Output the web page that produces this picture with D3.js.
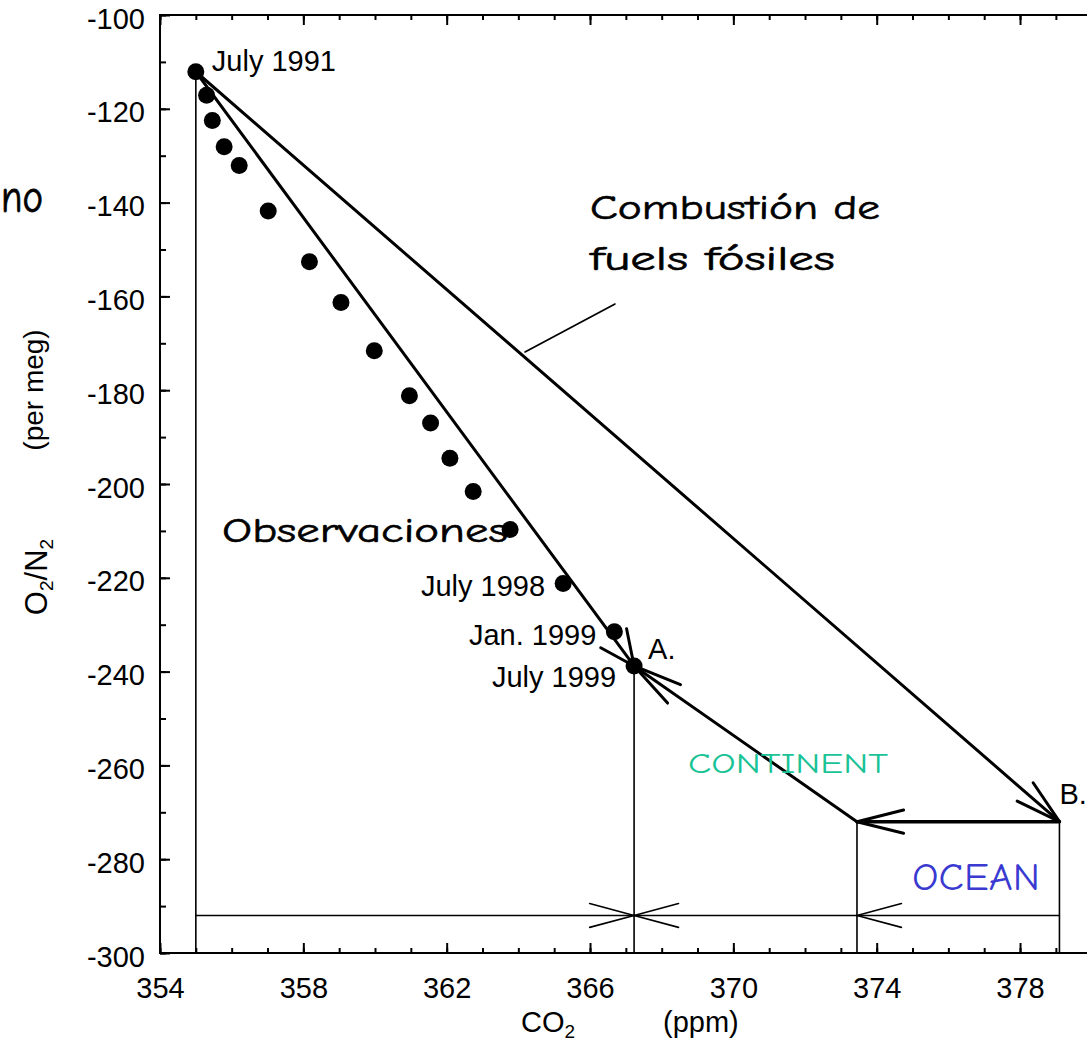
<!DOCTYPE html>
<html>
<head>
<meta charset="utf-8">
<script src="https://cdn.jsdelivr.net/npm/d3@7"></script>
<style>
  html, body { margin: 0; padding: 0; background: #fff; }
  svg { display: block; }
  .arial { font-family: "Liberation Sans", Arial, Helvetica, sans-serif; }
  .hand { font-family: "Comic Sans MS", "Comic Neue", "DejaVu Sans", sans-serif; }
</style>
</head>
<body>
<svg id="chart" width="1087" height="1043"></svg>
<script>
// Atmospheric CO2 (ppm) and O2/N2 (per meg) observations, July 1991 - July 1999
const co2 = [355.0, 355.3, 355.46, 355.79, 356.21, 357.02, 358.17, 359.05, 359.98,
             360.96, 361.55, 362.09, 362.74, 363.77, 365.25, 366.68, 367.23];
const o2n2 = [-112.1, -117.1, -122.5, -128.1, -132.1, -141.8, -152.6, -161.3, -171.6,
              -181.2, -187.0, -194.5, -201.6, -209.7, -221.2, -231.5, -238.8];

// Labelled observations (index into the series)
const dateLabels = ["July 1991", "July 1998", "Jan. 1999", "July 1999"];
const dateIndex = [0, 14, 15, 16];

// Budget vectors: start, A (observed end), B (fossil-only end), C (ocean/land split)
const budgetNames = ["start", "A", "B", "C"];
const budgetCO2 = [355.0, 367.23, 379.1, 373.45];
const budgetO2 = [-112.1, -238.8, -272.0, -272.0];
const baselineO2 = -292;

// Axis ticks
const xMajor = [354, 358, 362, 366, 370, 374, 378];
const xMinor = d3.range(354, 381, 1);
const yMajor = [-300, -280, -260, -240, -220, -200, -180, -160, -140, -120, -100];
const yMinor = d3.range(-300, -99, 10);

const svg = d3.select("#chart");
const x = d3.scaleLinear().domain([354, 380]).range([160, 1091.7]);
const y = d3.scaleLinear().domain([-300, -100]).range([953, 15]);

const P = {};
budgetNames.forEach((n, i) => P[n] = [x(budgetCO2[i]), y(budgetO2[i])]);

const plain = d => String(d);   // hyphen-minus, as in the original plot

// ---- axes: ticks point inward, frame drawn separately
function styleAxis(g) {
  g.select(".domain").remove();
  g.selectAll(".tick line").attr("stroke", "#000").attr("stroke-width", 2);
  g.selectAll(".tick text").attr("class", "arial").attr("font-size", 29).attr("fill", "#000");
}
svg.append("g").attr("transform", `translate(160,0)`)
  .call(d3.axisLeft(y).tickValues(yMinor).tickSize(-6).tickFormat("")).call(styleAxis);
svg.append("g").attr("transform", `translate(160,0)`)
  .call(d3.axisLeft(y).tickValues(yMajor).tickSize(-10).tickPadding(15).tickFormat(plain))
  .call(styleAxis)
  .selectAll(".tick text").attr("dy", "0.45em");

svg.append("g").attr("transform", `translate(0,953)`)
  .call(d3.axisBottom(x).tickValues(xMinor).tickSize(-5).tickFormat("")).call(styleAxis);
svg.append("g").attr("transform", `translate(0,953)`)
  .call(d3.axisBottom(x).tickValues(xMajor).tickSize(-10).tickPadding(24).tickFormat(plain))
  .call(styleAxis);

svg.append("g").attr("transform", `translate(0,15)`)
  .call(d3.axisTop(x).tickValues(xMinor).tickSize(-5).tickFormat("")).call(styleAxis);
svg.append("g").attr("transform", `translate(0,15)`)
  .call(d3.axisTop(x).tickValues(xMajor).tickSize(-10).tickFormat("")).call(styleAxis);

// frame
const [x0, x1] = x.range();
const frame = svg.append("g").attr("stroke", "#000").attr("stroke-width", 2).attr("fill", "none");
frame.append("path").attr("d", `M${x1},${y(-100)}H${x0}V${y(-300)}H${x1}`);
frame.append("line").attr("x1", x1).attr("x2", x1).attr("y1", y(-100)).attr("y2", y(-300));

// ---- axis titles
svg.append("text").attr("class", "arial").attr("font-size", 29)
  .attr("x", 521).attr("y", 1032)
  .call(t => { t.append("tspan").text("CO"); t.append("tspan").attr("font-size", 19).attr("dy", 6).text("2"); });
svg.append("text").attr("class", "arial").attr("font-size", 29)
  .attr("x", 663).attr("y", 1032).text("(ppm)");

svg.append("text").attr("class", "arial").attr("font-size", 28)
  .attr("transform", "translate(43,390) rotate(-90)").attr("text-anchor", "middle").text("(per meg)");
svg.append("text").attr("class", "arial").attr("font-size", 31)
  .attr("transform", "translate(47,577) rotate(-90)").attr("text-anchor", "middle")
  .call(t => {
    t.append("tspan").text("O");
    t.append("tspan").attr("font-size", 19).attr("dy", 6).text("2");
    t.append("tspan").attr("dy", -6).text("/N");
    t.append("tspan").attr("font-size", 19).attr("dy", 6).text("2");
  });

svg.append("text").attr("class", "hand").attr("font-size", 46)
  .attr("x", 1).attr("y", 212).attr("textLength", 42).attr("lengthAdjust", "spacingAndGlyphs")
  .attr("stroke", "#000").attr("stroke-width", 0.8).text("no");

// ---- helpers
const lines = svg.append("g").attr("stroke", "#000").attr("fill", "none").attr("stroke-linecap", "round");
function seg(a, b, w) {
  lines.append("line").attr("x1", a[0]).attr("y1", a[1]).attr("x2", b[0]).attr("y2", b[1])
    .attr("stroke-width", w);
}
// open arrowhead at tip, arms reaching back toward `from`
function head(tip, from, len, half, w) {
  const ang = Math.atan2(from[1] - tip[1], from[0] - tip[0]);
  [-1, 1].forEach(s => {
    const a = ang + s * half * Math.PI / 180;
    seg(tip, [tip[0] + len * Math.cos(a), tip[1] + len * Math.sin(a)], w);
  });
}

// thin drop lines to the baseline
const yb = y(baselineO2), yBottom = y(-300);
seg([P.start[0], P.start[1]], [P.start[0], yBottom], 1.6);
seg([P.A[0], P.A[1]], [P.A[0], yBottom], 1.6);
seg([P.C[0], P.C[1]], [P.C[0], yBottom], 1.6);
seg([P.B[0], P.B[1]], [P.B[0], yBottom], 1.6);

// baseline partition arrows
seg([P.start[0], yb], [P.A[0], yb], 1.6);
head([P.A[0], yb], [P.start[0], yb], 46, 15, 1.6);
seg([P.C[0], yb], [P.A[0], yb], 1.6);
head([P.A[0], yb], [P.C[0], yb], 46, 15, 1.6);
seg([P.B[0], yb], [P.C[0], yb], 1.6);
head([P.C[0], yb], [P.B[0], yb], 46, 15, 1.6);

// fossil fuel combustion vector
seg(P.start, P.B, 3);
head(P.B, P.start, 47, 15, 3);
// observed trend vector
seg(P.start, P.A, 3);
head(P.A, P.start, 38, 25, 3);
// ocean uptake
seg(P.B, P.C, 3.5);
head(P.C, P.B, 48, 14, 3);
// land (continent) uptake
seg(P.C, P.A, 3);
head(P.A, P.C, 50, 13, 3);

// leader line to the combustion label
seg([525, 352], [615, 304], 1.6);

// ---- observations
svg.append("g").selectAll("circle").data(co2).join("circle")
  .attr("cx", d => x(d)).attr("cy", (d, i) => y(o2n2[i])).attr("r", 8.5).attr("fill", "#000");

// date labels
const lab = svg.append("g").attr("class", "arial").attr("font-size", 29).attr("fill", "#000");
dateLabels.forEach((t, k) => {
  const i = dateIndex[k];
  const first = k === 0;
  lab.append("text")
    .attr("x", x(co2[i])).attr("y", y(o2n2[i]))
    .attr("dx", first ? 16 : -18)
    .attr("dy", first ? -1 : (k === 3 ? 21 : 13))
    .attr("text-anchor", first ? "start" : "end")
    .text(t);
});
lab.append("text").attr("x", P.A[0]).attr("y", P.A[1]).attr("dx", 14).attr("dy", -7).text("A.");
lab.append("text").attr("x", P.B[0]).attr("y", P.B[1]).attr("dx", 0).attr("dy", -18).text("B.");

// ---- handwritten annotations
const hand = svg.append("g").attr("class", "hand").attr("stroke-width", 0.6);
hand.append("text").attr("x", 590).attr("y", 219).attr("font-size", 34).attr("stroke", "#000")
  .attr("textLength", 290).attr("lengthAdjust", "spacingAndGlyphs").text("Combustión de");
hand.append("text").attr("x", 590).attr("y", 270).attr("font-size", 34).attr("stroke", "#000")
  .attr("textLength", 245).attr("lengthAdjust", "spacingAndGlyphs").text("fuels fósiles");
hand.append("text").attr("x", 222).attr("y", 542).attr("font-size", 35).attr("stroke", "#000")
  .attr("textLength", 286).attr("lengthAdjust", "spacingAndGlyphs").text("Observaciones");
hand.append("text").attr("x", 688).attr("y", 773).attr("font-size", 29).attr("fill", "#19c396")
  .attr("textLength", 200).attr("lengthAdjust", "spacingAndGlyphs").text("CONTINENT");
hand.append("text").attr("x", 912).attr("y", 890).attr("font-size", 38).attr("fill", "#3a3ad0")
  .attr("textLength", 128).attr("lengthAdjust", "spacingAndGlyphs").text("OCEAN");
</script>
</body>
</html>
